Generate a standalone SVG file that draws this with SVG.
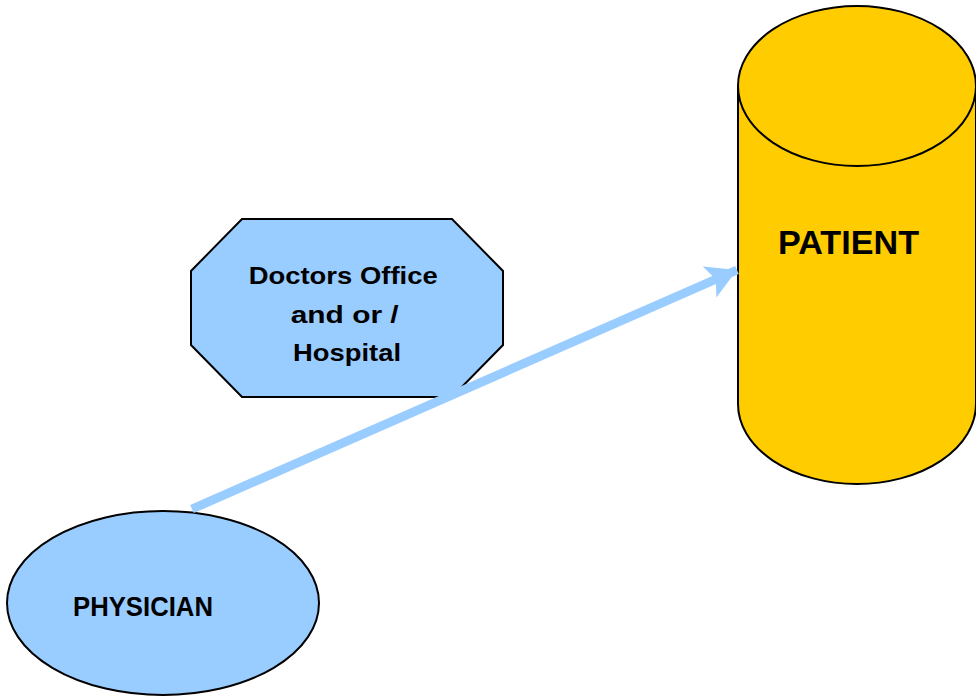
<svg xmlns="http://www.w3.org/2000/svg" width="976" height="700" viewBox="0 0 976 700">
<style>
.lbl{font-family:"Liberation Sans",Arial,sans-serif;font-weight:bold;fill:#000;}
.blue{fill:#99CCFF;stroke:#000;stroke-width:2;}
</style>
<defs>
<marker id="ah" markerUnits="userSpaceOnUse" markerWidth="40" markerHeight="40" refX="30" refY="17" orient="auto">
<path d="M0,0 L30,17 L0,34 L7,17 Z" fill="#99CCFF"/>
</marker>
</defs>
<rect width="976" height="700" fill="#fff"/>
<g id="patient">
<path d="M738,86 L738,404 A119,80 0 0 0 976,404 L976,86" fill="#FFCC00" stroke="#000" stroke-width="2"/>
<ellipse cx="857" cy="86" rx="119" ry="80" fill="#FFCC00" stroke="#000" stroke-width="2"/>
<text class="lbl" x="848.5" y="254" font-size="34" text-anchor="middle" textLength="141" lengthAdjust="spacingAndGlyphs">PATIENT</text>
</g>
<g id="office">
<polygon class="blue" points="242,219 452,219 503,271 503,345 452,397 242,397 191,345 191,271"/>
<text class="lbl" font-size="24" text-anchor="middle">
<tspan x="346.5" y="284" textLength="189" lengthAdjust="spacingAndGlyphs">Doctors Office</tspan>
<tspan x="348" y="323" textLength="108" lengthAdjust="spacingAndGlyphs">and or /</tspan>
<tspan x="347" y="361" textLength="108" lengthAdjust="spacingAndGlyphs">Hospital</tspan>
</text>
</g>
<g id="physician">
<ellipse class="blue" cx="163" cy="603" rx="156" ry="92"/>
<text class="lbl" x="143" y="616" font-size="27" text-anchor="middle" textLength="140" lengthAdjust="spacingAndGlyphs">PHYSICIAN</text>
</g>
<g id="connectors">
<line x1="192" y1="509" x2="737" y2="270" stroke="#99CCFF" stroke-width="9" marker-end="url(#ah)"/>
</g>
</svg>
